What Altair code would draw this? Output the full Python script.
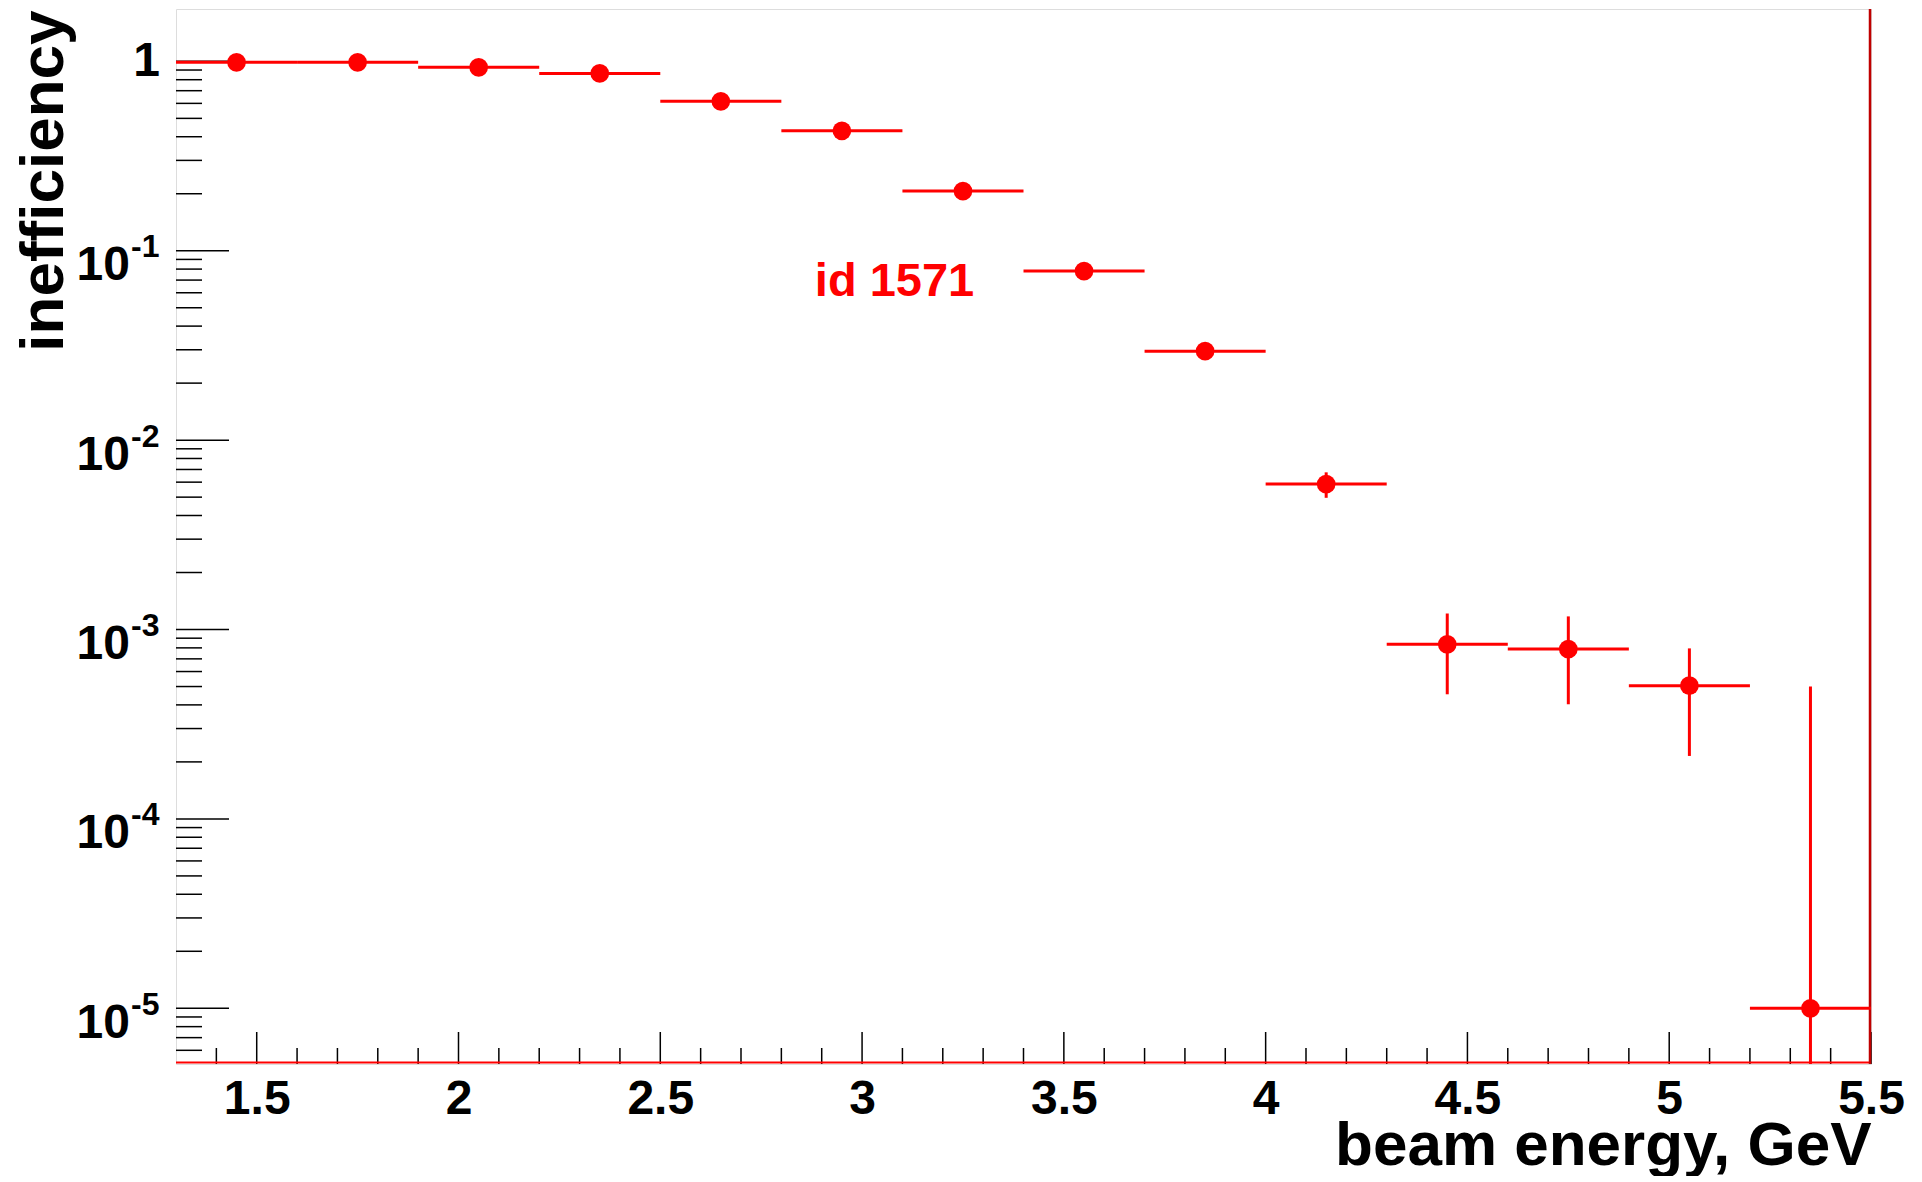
import altair as alt
import pandas as pd

# ---- data ----
energy = [1.45, 1.75, 2.05, 2.35, 2.65, 2.95, 3.25, 3.55, 3.85, 4.15, 4.45, 4.75, 5.05, 5.35]
bin_width = 0.3
ineff = [0.988, 0.988, 0.930, 0.864, 0.615, 0.430, 0.2066, 0.0781, 0.0295,
         0.00586, 0.000835, 0.000788, 0.000505, 1.0e-5]
ineff_err = [0.004, 0.004, 0.006, 0.006, 0.008, 0.008, 0.005, 0.003, 0.0012,
             0.0009, 0.00038, 0.000385, 0.00029, 0.00049]

x_major = [1.5, 2.0, 2.5, 3.0, 3.5, 4.0, 4.5, 5.0, 5.5]
y_decades = [1e-1, 1e-2, 1e-3, 1e-4, 1e-5]
y_exponents = ["-1", "-2", "-3", "-4", "-5"]
y_one = [1.0]

annot_x = [2.883]
annot_y = [0.0579]
annot_text = ["id 1571"]

X_DOMAIN = [1.3, 5.5]
Y_DOMAIN = [5.08e-6, 1.89]
W, H = 1695, 1055
FONT = "Liberation Sans"

# ---- tables ----
df = pd.DataFrame({
    "x": energy,
    "xlo": [e - bin_width / 2 for e in energy],
    "xhi": [e + bin_width / 2 for e in energy],
    "y": ineff,
    "ylo": [max(v - s, 1e-9) for v, s in zip(ineff, ineff_err)],
    "yhi": [v + s for v, s in zip(ineff, ineff_err)],
})

x_minor = [round(1.3 + 0.1 * i, 1) for i in range(1, 43)]
x_minor = [v for v in x_minor if all(abs(v - m) > 1e-9 for m in x_major)]
y_minor = [k * 10.0 ** n for n in range(-6, 1) for k in range(2, 10)]
y_minor = [v for v in y_minor if Y_DOMAIN[0] <= v <= Y_DOMAIN[1]]
y_major_all = [1.0] + y_decades

xs = alt.Scale(domain=X_DOMAIN, nice=False, zero=False)
ys = alt.Scale(type="log", domain=Y_DOMAIN, nice=False)

xaxis = alt.Axis(values=x_major, format="~g", labelFont=FONT, labelFontWeight="bold",
                 labelFontSize=48, labelColor="black", labelPadding=11,
                 labelFlush=False, labelOverlap=False, ticks=False, domain=False,
                 grid=False, title="beam energy, GeV", titleFont=FONT,
                 titleFontSize=62, titleFontWeight="bold", titleColor="black",
                 titleAnchor="end", titleAlign="right", titleBaseline="alphabetic",
                 titleX=W, titleY=100)
yaxis = alt.Axis(labels=False, ticks=False, domain=False, grid=False,
                 title="inefficiency", titleFont=FONT, titleFontSize=62,
                 titleFontWeight="bold", titleColor="black", titleAngle=270,
                 titleAlign="right", titleBaseline="alphabetic", titleX=-114, titleY=1)

base = alt.Chart(df)
RED = "#ff0000"

hbar = base.mark_rule(color=RED, strokeWidth=3).encode(
    x=alt.X("xlo:Q", scale=xs, axis=xaxis), x2="xhi:Q",
    y=alt.Y("y:Q", scale=ys, axis=yaxis))
vbar = base.mark_rule(color=RED, strokeWidth=3, clip=True).encode(
    x=alt.X("x:Q", scale=xs, axis=xaxis),
    y=alt.Y("ylo:Q", scale=ys, axis=yaxis), y2="yhi:Q")
pts = base.mark_circle(color=RED, size=350, opacity=1).encode(
    x=alt.X("x:Q", scale=xs, axis=xaxis), y=alt.Y("y:Q", scale=ys, axis=yaxis))

# inward ticks
ymaj = alt.Chart(pd.DataFrame({"v": y_major_all})).mark_rule(color="black", strokeWidth=1.5).encode(
    y=alt.Y("v:Q", scale=ys, axis=yaxis), x=alt.value(0), x2=alt.value(53))
ymin = alt.Chart(pd.DataFrame({"v": y_minor})).mark_rule(color="black", strokeWidth=1.5).encode(
    y=alt.Y("v:Q", scale=ys, axis=yaxis), x=alt.value(0), x2=alt.value(26))
xmaj = alt.Chart(pd.DataFrame({"v": x_major})).mark_rule(color="black", strokeWidth=1.5).encode(
    x=alt.X("v:Q", scale=xs, axis=xaxis), y=alt.value(H), y2=alt.value(H - 32))
xmin = alt.Chart(pd.DataFrame({"v": x_minor})).mark_rule(color="black", strokeWidth=1.5).encode(
    x=alt.X("v:Q", scale=xs, axis=xaxis), y=alt.value(H), y2=alt.value(H - 16))

# y tick labels 10^n
lab_df = pd.DataFrame({"v": y_decades, "e": y_exponents})
lab10 = alt.Chart(lab_df).mark_text(font=FONT, fontWeight="bold", fontSize=48, color="black",
                                    align="right", baseline="alphabetic", dy=29.5).encode(
    y=alt.Y("v:Q", scale=ys, axis=yaxis), x=alt.value(-46), text=alt.value("10"))
labexp = alt.Chart(lab_df).mark_text(font=FONT, fontWeight="bold", fontSize=32, color="black",
                                     align="left", baseline="alphabetic", dy=6.4).encode(
    y=alt.Y("v:Q", scale=ys, axis=yaxis), x=alt.value(-45), text="e:N")
lab1 = alt.Chart(pd.DataFrame({"v": y_one})).mark_text(font=FONT, fontWeight="bold", fontSize=48,
                                                       color="black", align="right",
                                                       baseline="alphabetic", dy=15).encode(
    y=alt.Y("v:Q", scale=ys, axis=yaxis), x=alt.value(-16), text=alt.value("1"))

annot = alt.Chart(pd.DataFrame({"x": annot_x, "y": annot_y, "t": annot_text})).mark_text(
    font=FONT, fontWeight="bold", fontSize=47, color=RED, align="left", baseline="alphabetic").encode(
    x=alt.X("x:Q", scale=xs, axis=xaxis), y=alt.Y("y:Q", scale=ys, axis=yaxis), text="t:N")

# red histogram outline along bottom and right frame
red_bottom = alt.Chart().mark_rule(color=RED, strokeWidth=2).encode(
    x=alt.value(0), x2=alt.value(W), y=alt.value(H - 1.5))
red_right = alt.Chart().mark_rule(color="#c00000", strokeWidth=2.5).encode(
    x=alt.value(W - 1), y=alt.value(0), y2=alt.value(H))

chart = alt.layer(
    ymin, ymaj, xmin, xmaj, red_bottom, red_right, hbar, vbar, pts,
    lab10, labexp, lab1, annot
).properties(
    width=W, height=H,
    autosize=alt.AutoSizeParams(type="none"),
    padding={"left": 168, "top": 1, "right": 42, "bottom": 112},
).configure_view(stroke="black", strokeWidth=1.5).configure(background="white")

chart.save("out.html", embed_options={"renderer": "svg", "actions": False})
